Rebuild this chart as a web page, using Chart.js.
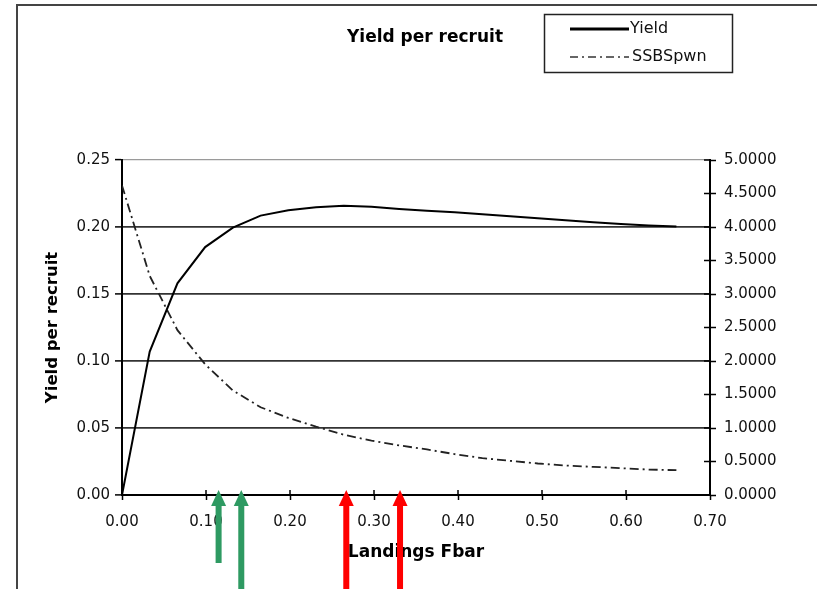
<!DOCTYPE html>
<html>
<head>
<meta charset="utf-8">
<script src="https://cdn.jsdelivr.net/npm/chart.js@4.4.1/dist/chart.umd.min.js"></script>
<style>
  html, body { margin: 0; padding: 0; background: #ffffff; }
  canvas { display: block; }
</style>
</head>
<body>
<canvas id="ypr" width="817" height="589"></canvas>
<script>
// Fishing mortality (Landings Fbar) grid
const fbar = [0.000, 0.033, 0.066, 0.099, 0.132, 0.165, 0.198, 0.231, 0.264, 0.297,
              0.330, 0.363, 0.396, 0.429, 0.462, 0.495, 0.528, 0.561, 0.594, 0.627, 0.660];

// Yield per recruit (left axis)
const yieldPerRecruit = [0.0000, 0.1070, 0.1580, 0.1850, 0.1995, 0.2085, 0.2125, 0.2148, 0.2158, 0.2152,
                         0.2135, 0.2122, 0.2110, 0.2095, 0.2080, 0.2065, 0.2050, 0.2035, 0.2022, 0.2012, 0.2003];

// Spawning stock biomass per recruit (right axis)
const ssbPerRecruit = [4.62, 3.27, 2.46, 1.95, 1.56, 1.31, 1.15, 1.02, 0.90, 0.81,
                       0.74, 0.68, 0.61, 0.55, 0.51, 0.47, 0.44, 0.42, 0.40, 0.38, 0.37];

// Axis ticks
const xTickValues = [0.00, 0.10, 0.20, 0.30, 0.40, 0.50, 0.60, 0.70];
const yieldTickValues = [0.00, 0.05, 0.10, 0.15, 0.20, 0.25];
const ssbTickValues = [0.0, 0.5, 1.0, 1.5, 2.0, 2.5, 3.0, 3.5, 4.0, 4.5, 5.0];

// Reference F values marked below the axis
const greenArrowF = [0.115, 0.142];
const redArrowF = [0.267, 0.331];

Chart.defaults.font.family = '"DejaVu Sans", sans-serif';

const setTicks = values => scale => { scale.ticks = values.map(v => ({ value: v })); };

// Page frame, title and legend box
const decorPlugin = {
  id: 'decor',
  beforeDraw(chart) {
    const ctx = chart.ctx;
    ctx.save();
    ctx.fillStyle = '#ffffff';
    ctx.fillRect(0, 0, chart.width, chart.height);
    ctx.strokeStyle = '#444444';
    ctx.lineWidth = 2;
    ctx.beginPath();
    ctx.moveTo(17, chart.height);
    ctx.lineTo(17, 5);
    ctx.lineTo(chart.width, 5);
    ctx.stroke();
    ctx.restore();
  },
  afterDraw(chart) {
    const ctx = chart.ctx;
    ctx.save();
    // title
    ctx.fillStyle = '#000000';
    ctx.font = 'bold 17px "DejaVu Sans"';
    ctx.textAlign = 'center';
    ctx.textBaseline = 'middle';
    ctx.fillText('Yield per recruit', 425, 38);

    // legend box
    ctx.strokeStyle = '#222222';
    ctx.lineWidth = 1.5;
    ctx.strokeRect(544.5, 14.5, 188, 58);

    ctx.strokeStyle = '#000000';
    ctx.lineWidth = 3;
    ctx.beginPath();
    ctx.moveTo(570, 29);
    ctx.lineTo(629, 29);
    ctx.stroke();

    ctx.strokeStyle = '#666666';
    ctx.lineWidth = 2;
    ctx.setLineDash([8, 4, 2, 4]);
    ctx.beginPath();
    ctx.moveTo(570, 57);
    ctx.lineTo(629, 57);
    ctx.stroke();
    ctx.setLineDash([]);

    ctx.font = '16px "DejaVu Sans"';
    ctx.textAlign = 'left';
    ctx.fillStyle = '#111111';
    ctx.fillText(chart.data.datasets[0].label, 630, 29);
    ctx.fillText(chart.data.datasets[1].label, 632, 57);
    ctx.restore();
  }
};

// Inward halves of the crossing tick marks
const innerTicksPlugin = {
  id: 'innerTicks',
  afterDraw(chart) {
    const ctx = chart.ctx;
    const { x, y1 } = chart.scales;
    const area = chart.chartArea;
    ctx.save();
    ctx.strokeStyle = '#000000';
    ctx.lineWidth = 1.5;
    ctx.beginPath();
    x.ticks.forEach(t => {
      const px = x.getPixelForValue(t.value);
      ctx.moveTo(px, area.bottom);
      ctx.lineTo(px, area.bottom - 5);
    });
    y1.ticks.forEach(t => {
      const py = y1.getPixelForValue(t.value);
      ctx.moveTo(area.right, py);
      ctx.lineTo(area.right - 6, py);
    });
    ctx.stroke();
    ctx.restore();
  }
};

// Vertical arrows marking reference F values
const arrowsPlugin = {
  id: 'arrows',
  afterDraw(chart) {
    const ctx = chart.ctx;
    const xs = chart.scales.x;
    const tipY = 490;
    const headH = 16, headW = 15, shaftW = 6;
    const draw = (f, color, endY) => {
      const px = xs.getPixelForValue(f);
      ctx.fillStyle = color;
      ctx.fillRect(px - shaftW / 2, tipY + headH - 1, shaftW, endY - (tipY + headH - 1));
      ctx.beginPath();
      ctx.moveTo(px, tipY);
      ctx.lineTo(px - headW / 2, tipY + headH);
      ctx.lineTo(px + headW / 2, tipY + headH);
      ctx.closePath();
      ctx.fill();
    };
    ctx.save();
    greenArrowF.forEach((f, i) => draw(f, '#2e9a62', i === 0 ? 563 : chart.height));
    redArrowF.forEach(f => draw(f, '#ff0000', chart.height));
    ctx.restore();
  }
};

new Chart(document.getElementById('ypr'), {
  type: 'line',
  data: {
    datasets: [
      {
        label: 'Yield',
        data: fbar.map((f, i) => ({ x: f, y: yieldPerRecruit[i] })),
        yAxisID: 'y',
        borderColor: '#000000',
        borderWidth: 2,
        pointRadius: 0,
        tension: 0,
        fill: false
      },
      {
        label: 'SSBSpwn',
        data: fbar.map((f, i) => ({ x: f, y: ssbPerRecruit[i] })),
        yAxisID: 'y1',
        borderColor: '#222222',
        borderWidth: 1.8,
        borderDash: [9, 4, 2, 4],
        pointRadius: 0,
        tension: 0,
        fill: false
      }
    ]
  },
  options: {
    responsive: false,
    animation: false,
    devicePixelRatio: 1,
    layout: { padding: { left: 0, right: 0, top: 160, bottom: 0 } },
    plugins: {
      legend: { display: false },
      title: { display: false },
      tooltip: { enabled: false }
    },
    scales: {
      x: {
        type: 'linear',
        position: 'bottom',
        min: 0,
        max: 0.7,
        afterBuildTicks: setTicks(xTickValues),
        afterFit: s => { s.height = 94; },
        ticks: {
          callback: v => v.toFixed(2),
          font: { size: 15 },
          color: '#111111',
          padding: 13,
          maxRotation: 0,
          autoSkip: false
        },
        grid: {
          drawOnChartArea: false,
          drawTicks: true,
          tickLength: 5,
          tickColor: '#000000',
          tickWidth: 1.5
        },
        border: { display: true, color: '#000000', width: 2 },
        title: {
          display: true,
          text: 'Landings Fbar',
          font: { size: 17, weight: 'bold' },
          color: '#000000',
          padding: { top: 0, bottom: 26 }
        }
      },
      y: {
        type: 'linear',
        position: 'left',
        min: 0,
        max: 0.25,
        afterBuildTicks: setTicks(yieldTickValues),
        afterFit: s => { s.width = 122; },
        ticks: {
          callback: v => v.toFixed(2),
          font: { size: 15 },
          color: '#111111',
          padding: 5
        },
        grid: {
          drawOnChartArea: true,
          drawTicks: true,
          tickLength: 7,
          color: ctx => (ctx.tick && ctx.tick.value === 0.25 ? '#9a9a9a' : '#333333'),
          lineWidth: ctx => (ctx.tick && ctx.tick.value === 0.25 ? 1.2 : 1.8),
          tickColor: '#000000',
          tickWidth: 1.5
        },
        border: { display: true, color: '#000000', width: 2 },
        title: {
          display: true,
          text: 'Yield per recruit',
          font: { size: 16.5, weight: 'bold' },
          color: '#000000',
          padding: { top: 43, bottom: 0 }
        }
      },
      y1: {
        type: 'linear',
        position: 'right',
        min: 0,
        max: 5,
        afterBuildTicks: setTicks(ssbTickValues),
        afterFit: s => { s.width = 107; },
        ticks: {
          callback: v => v.toFixed(4),
          font: { size: 15 },
          color: '#111111',
          padding: 8
        },
        grid: {
          drawOnChartArea: false,
          drawTicks: true,
          tickLength: 6,
          tickColor: '#000000',
          tickWidth: 1.5
        },
        border: { display: true, color: '#000000', width: 2 }
      }
    }
  },
  plugins: [decorPlugin, innerTicksPlugin, arrowsPlugin]
});
</script>
</body>
</html>
